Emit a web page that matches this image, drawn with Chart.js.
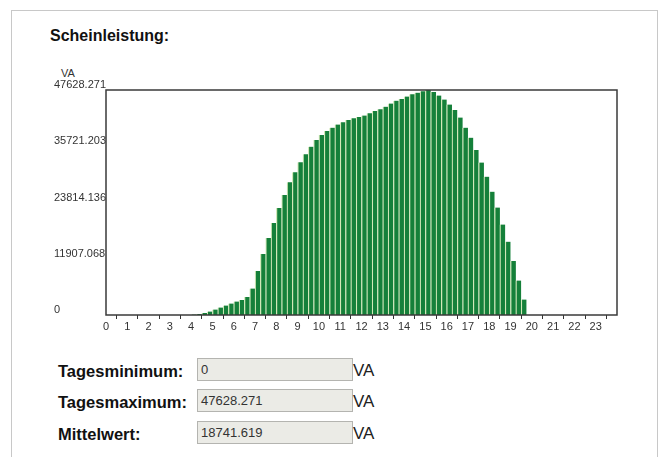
<!DOCTYPE html>
<html>
<head>
<meta charset="utf-8">
<script src="https://cdn.jsdelivr.net/npm/chart.js@4.4.1/dist/chart.umd.min.js"></script>
<style>
    body { margin: 0; background: #fff; font-family: "Liberation Sans", Arial, sans-serif; }
    #page { position: relative; width: 668px; height: 457px; overflow: hidden; }
    #frame { position: absolute; left: 11px; top: 10px; width: 645px; height: 470px; border: 1px solid #c8c8c8; }
    h1 { position: absolute; left: 50px; top: 27px; margin: 0; font-size: 16px; font-weight: bold; color: #111; }
    #unit { position: absolute; left: 61px; top: 67px; font-size: 11px; color: #333; }
    #chartWrap { position: absolute; left: 0; top: 0; width: 668px; height: 340px; }
    .label { position: absolute; left: 58px; font-size: 16.5px; font-weight: bold; color: #111; line-height: 23px; }
    .box { position: absolute; left: 197px; width: 151px; height: 21px; padding-left: 3px; background: #ebebe6;
           border: 1px solid #b4b4b0; font-size: 13px; line-height: 21px; color: #333; }
    .unitText { position: absolute; left: 353px; font-size: 17px; color: #222; line-height: 23px; }
</style>
</head>
<body>
<div id="page">
    <div id="frame"></div>
    <h1>Scheinleistung:</h1>
    <div id="unit">VA</div>
    <div id="chartWrap"><canvas id="chart" width="668" height="340"></canvas></div>
    <div id="stats"></div>
</div>
<script>
// 15-minute values, 96 slots (00:00 .. 23:45), VA
const scheinleistung = [
    0, 0, 0, 0, 0, 0, 0, 0, 0, 0, 0, 0, 0, 0, 0, 0,
    106, 212, 423, 741, 1164, 1588, 2011, 2434,
    2858, 3175, 3810, 5610, 9314, 12913, 16299, 19475,
    22650, 25402, 28090, 30207, 32324, 34018, 35626, 37044,
    38103, 38949, 39648, 40325, 40791, 41278, 41637, 41913,
    42230, 42696, 43183, 43542, 44093, 44771, 45363, 45723,
    46252, 46718, 47057, 47375, 47628.271, 47205, 46464, 45618,
    44559, 43395, 41807, 39648, 37532, 34927, 32281, 29275,
    26101, 22756, 19157, 15516, 11431, 7303, 3281, 0,
    0, 0, 0, 0, 0, 0, 0, 0, 0, 0, 0, 0, 0, 0, 0, 0
];
const slotsPerHour = 4;
const hourLabels = ['0','1','2','3','4','5','6','7','8','9','10','11','12','13','14','15','16','17','18','19','20','21','22','23'];
const yTickValues = [0, 11907.068, 23814.136, 35721.203, 47628.271];
const yTickLabels = ['0', '11907.068', '23814.136', '35721.203', '47628.271'];

const statNames = ['Tagesminimum:', 'Tagesmaximum:', 'Mittelwert:'];
const statValues = ['0', '47628.271', '18741.619'];
const statUnit = 'VA';

// stats rows
const stats = document.getElementById('stats');
const rowTops = [358, 389, 421];
statNames.forEach((name, i) => {
    const top = rowTops[i];
    const lab = document.createElement('div');
    lab.className = 'label';
    lab.style.top = (top + 2) + 'px';
    lab.textContent = name;
    const box = document.createElement('div');
    box.className = 'box';
    box.style.top = top + 'px';
    box.textContent = statValues[i];
    const u = document.createElement('div');
    u.className = 'unitText';
    u.style.top = (top + 1) + 'px';
    u.textContent = statUnit;
    stats.appendChild(lab);
    stats.appendChild(box);
    stats.appendChild(u);
});

// plot frame around the chart area
const frameBox = {
    id: 'frameBox',
    afterDraw(chart) {
        const a = chart.chartArea;
        const ctx = chart.ctx;
        ctx.save();
        ctx.strokeStyle = '#3a3a3a';
        ctx.lineWidth = 1.5;
        ctx.strokeRect(a.left, a.top, a.right - a.left, a.bottom - a.top);
        ctx.restore();
    }
};

const points = scheinleistung.map((v, i) => ({ x: (i + 0.5) / slotsPerHour, y: v }));

new Chart(document.getElementById('chart'), {
    type: 'bar',
    data: {
        datasets: [{
            data: points,
            backgroundColor: '#15803a',
            borderColor: '#d2e8b8',
            borderWidth: { left: 1.2, right: 0, top: 0, bottom: 0 },
            borderSkipped: false,
            barPercentage: 1,
            categoryPercentage: 1
        }]
    },
    options: {
        responsive: false,
        animation: false,
        devicePixelRatio: 1,
        layout: { padding: { left: 54, top: 90, right: 51, bottom: 0 } },
        plugins: { legend: { display: false }, tooltip: { enabled: false } },
        scales: {
            x: {
                type: 'linear',
                min: 0,
                max: 24,
                offset: false,
                afterFit: s => { s.height = 25; },
                afterBuildTicks: s => { s.ticks = hourLabels.map((l, i) => ({ value: i })); },
                grid: { display: true, drawOnChartArea: false, drawTicks: true, tickLength: 4, color: '#333' },
                border: { display: false },
                ticks: {
                    autoSkip: false,
                    maxRotation: 0,
                    padding: 1,
                    color: '#333',
                    font: { family: 'Liberation Sans', size: 11 },
                    callback: (v) => hourLabels[v]
                }
            },
            y: {
                min: 0,
                max: yTickValues[yTickValues.length - 1],
                afterFit: s => { s.width = 52; },
                afterBuildTicks: s => { s.ticks = yTickValues.map(v => ({ value: v })); },
                grid: { display: false },
                border: { display: false },
                ticks: {
                    crossAlign: 'far',
                    labelOffset: -5,
                    color: '#333',
                    font: { family: 'Liberation Sans', size: 11 },
                    callback: (v, i) => yTickLabels[i]
                }
            }
        }
    },
    plugins: [frameBox]
});
</script>
</body>
</html>
